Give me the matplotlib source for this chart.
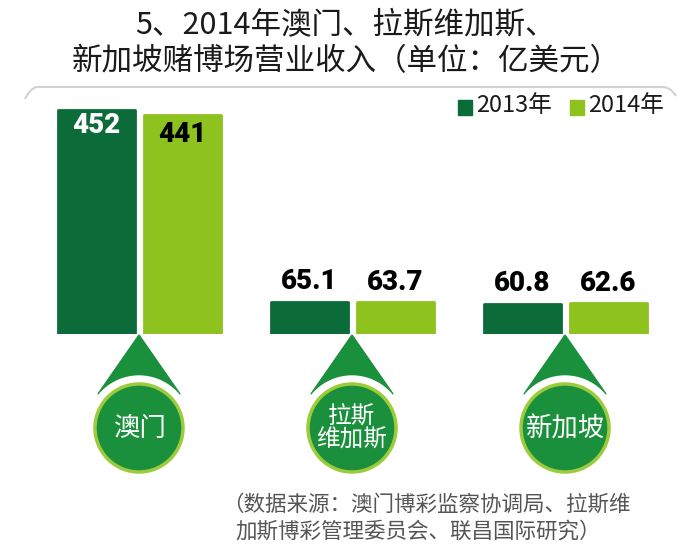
import numpy as np
import matplotlib
matplotlib.use("Agg")
import matplotlib.pyplot as plt
from matplotlib.patches import Circle, Polygon
from matplotlib.path import Path
from matplotlib.patches import PathPatch

plt.rcParams["font.family"] = ["Noto Sans CJK SC", "DejaVu Sans"]

# ── data ────────────────────────────────────────────────────────────────
CITIES      = ["澳门", "拉斯\n维加斯", "新加坡"]
YEARS       = ["2013年", "2014年"]
REV_2013    = [452, 65.1, 60.8]
REV_2014    = [441, 63.7, 62.6]
LABELS_2013 = ["452", "65.1", "60.8"]
LABELS_2014 = ["441", "63.7", "62.6"]

DARK   = "#0b6b39"
LIGHT  = "#8dc21f"
MID    = "#1a8f3c"
RIM    = "#9ccb3b"
NUMFONT = ["Roboto", "DejaVu Sans"]

fig = plt.figure(figsize=(7, 5.6), dpi=100)

# bar axes: bottom at y=334px, 0.4956 px per unit
ax = fig.add_axes([0, (560 - 334) / 560, 1, 247.8 / 560])
x = np.arange(len(CITIES))
w = 77 / 213
off = 43 / 213
kw = dict(width=w, linewidth=2, joinstyle="round", zorder=2)
b1 = ax.bar(x - off, REV_2013, color=DARK, edgecolor=DARK, **kw)
b2 = ax.bar(x + off, REV_2014, color=LIGHT, edgecolor=LIGHT, **kw)
ax.set_xlim(-139 / 213, (700 - 139) / 213)
ax.set_ylim(0, 500)
ax.axis("off")

nkw = dict(ha="center", fontsize=20, fontweight="black", family=NUMFONT)
for i in range(len(CITIES)):
    if REV_2013[i] > 200:
        ax.text(x[i] - off, REV_2013[i] - 5, LABELS_2013[i], va="top", color="white", **nkw)
        ax.text(x[i] + off, REV_2014[i] - 12, LABELS_2014[i], va="top", color="black", **nkw)
    else:
        ax.text(x[i] - off, REV_2013[i] + 13, LABELS_2013[i], va="bottom", color="black", **nkw)
        ax.text(x[i] + off, REV_2014[i] + 13, LABELS_2014[i], va="bottom", color="black", **nkw)

# overlay in pixel coords for decorations
deco = fig.add_axes([0, 0, 1, 1])
deco.set_xlim(0, 700)
deco.set_ylim(560, 0)
deco.axis("off")

# top separator with curved ends
verts = [(25, 99), (29, 90), (36, 87), (664, 87), (671, 88), (676, 96)]
codes = [Path.MOVETO, Path.CURVE3, Path.CURVE3, Path.LINETO, Path.CURVE3, Path.CURVE3]
deco.add_patch(PathPatch(Path(verts, codes), fill=False, edgecolor="#d2d2d2", lw=1.5))

# markers + city bubbles
for i, city in enumerate(CITIES):
    cx = 139 + 213 * i
    cy = 428
    deco.add_patch(Polygon([(cx, 335), (cx - 41, 394), (cx + 41, 394)],
                           closed=True, color=MID, zorder=1))
    deco.add_patch(Circle((cx, cy), 52, color="white", zorder=2))
    deco.add_patch(Circle((cx, cy), 44, facecolor=MID, edgecolor=RIM, lw=2.5, zorder=3))
    fs = 19 if "\n" not in city else 17
    deco.text(cx, cy + 1, city, ha="center", va="center", color="white",
              fontsize=fs, linespacing=1.0, zorder=4)

# title
fig.text(0.494, 1 - 26 / 560, "5、2014年澳门、拉斯维加斯、", ha="center", va="center",
         fontsize=22, color="#1a1a1a", fontweight="medium")
fig.text(0.494, 1 - 62 / 560, "新加坡赌博场营业收入（单位：亿美元）", ha="center", va="center",
         fontsize=22, color="#1a1a1a", fontweight="medium")

# legend
for lx, col, lab in [(458, DARK, YEARS[0]), (570, LIGHT, YEARS[1])]:
    deco.add_patch(plt.Rectangle((lx, 100), 14, 15, color=col))
    deco.text(lx + 18, 106, lab, ha="left", va="center", fontsize=17, color="#1a1a1a")

# source
fig.text(222 / 700, 1 - 505 / 560, "（数据来源：澳门博彩监察协调局、拉斯维",
         ha="left", va="center", fontsize=15.5, color="#555555")
fig.text(235 / 700, 1 - 532 / 560, "加斯博彩管理委员会、联昌国际研究）",
         ha="left", va="center", fontsize=15.5, color="#555555")

fig.savefig("out.png", dpi=100, facecolor="white")
